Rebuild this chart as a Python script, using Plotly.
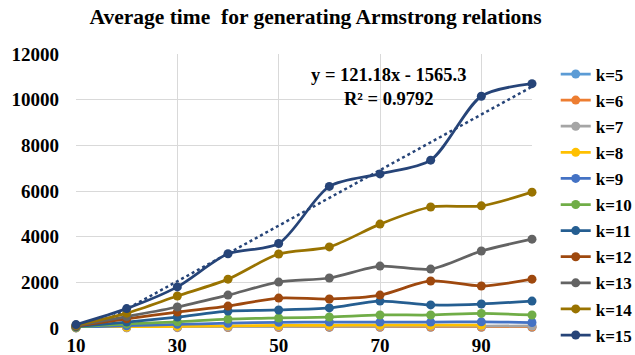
import numpy as np
import plotly.graph_objects as go

x_vals = [10, 20, 30, 40, 50, 60, 70, 80, 90, 100]
series_names = ["k=5", "k=6", "k=7", "k=8", "k=9", "k=10", "k=11", "k=12", "k=13", "k=14", "k=15"]

k5 = [5, 10, 15, 20, 25, 25, 30, 30, 30, 30]
k6 = [8, 15, 25, 30, 35, 40, 40, 40, 45, 45]
k7 = [10, 25, 40, 55, 65, 70, 75, 80, 85, 90]
k8 = [15, 40, 70, 95, 110, 120, 125, 125, 130, None]
k9 = [30, 100, 160, 210, 250, 260, 260, 260, 270, 240]
k10 = [40, 180, 270, 390, 440, 480, 570, 570, 640, 570]
k11 = [60, 260, 480, 740, 790, 880, 1180, 1010, 1050, 1180]
k12 = [80, 400, 700, 960, 1310, 1270, 1440, 2060, 1840, 2140]
k13 = [100, 500, 920, 1440, 2010, 2190, 2710, 2580, 3370, 3890]
k14 = [120, 650, 1400, 2140, 3240, 3550, 4550, 5300, 5350, 5950]
k15 = [150, 850, 1800, 3250, 3700, 6200, 6750, 7350, 10150, 10700]

x_ticks = [10, 30, 50, 70, 90]
y_ticks = [0, 2000, 4000, 6000, 8000, 10000, 12000]

colors = ["#5B9BD5", "#ED7D31", "#A5A5A5", "#FFC000", "#4472C4", "#70AD47",
          "#255E91", "#9E480E", "#636363", "#997300", "#264478"]

trend_label = "y = 121.18x - 1565.3"
r2_label = "R² = 0.9792"
title_text = "Average time  for generating Armstrong relations"

FONT = "Liberation Serif"

fig = go.Figure()

coef = np.polyfit(x_vals, k15, 1)
tx = [x_vals[0], x_vals[-1]]
ty = [coef[0] * v + coef[1] for v in tx]
fig.add_trace(go.Scatter(
    x=tx, y=ty, mode="lines", showlegend=False,
    line=dict(color="#264478", width=2.5, dash="dot"), hoverinfo="skip",
))

all_series = [k5, k6, k7, k8, k9, k10, k11, k12, k13, k14, k15]
for name, vals, col in zip(series_names, all_series, colors):
    fig.add_trace(go.Scatter(
        x=x_vals, y=vals, name="<b>" + name + "</b>", mode="lines+markers",
        legendgroup=name,
        line=dict(color=col, width=2.75, shape="spline", smoothing=0.8),
        marker=dict(color=col, size=9),
        cliponaxis=False, connectgaps=False,
    ))

fig.add_annotation(
    x=71.7, y=10550, xref="x", yref="y",
    text="<b>" + trend_label + "</b><br><b>" + r2_label + "</b>", showarrow=False,
    font=dict(family=FONT, size=18.5, color="#000000"),
    align="center",
)

tickfont = dict(family=FONT, size=19, color="#000000")

fig.update_layout(
    width=635, height=355,
    margin=dict(l=76, r=103, t=54, b=27, autoexpand=False),
    paper_bgcolor="white", plot_bgcolor="white",
    title=dict(text="<b>" + title_text + "</b>", x=0.497, xanchor="center",
               y=0.955, yanchor="middle",
               font=dict(family=FONT, size=21.5, color="#000000")),
    font=dict(family=FONT, color="#000000"),
    showlegend=True,
    legend=dict(x=1.052, xanchor="left", y=0.991, yanchor="top",
                font=dict(family=FONT, size=17, color="#000000"),
                itemwidth=30, bgcolor="rgba(0,0,0,0)",
                traceorder="grouped", tracegroupgap=1,
                maxheight=340),
    xaxis=dict(range=[10, 100], tickvals=x_ticks,
               ticktext=["<b>%d</b>" % v for v in x_ticks],
               showgrid=True, gridcolor="#D9D9D9", gridwidth=1,
               zeroline=False, showline=False, ticks="", automargin=False,
               tickfont=tickfont, ticklabelstandoff=4),
    yaxis=dict(range=[0, 12000], tickvals=y_ticks,
               ticktext=["<b>%d</b>" % v for v in y_ticks],
               showgrid=True, gridcolor="#D9D9D9", gridwidth=1,
               zeroline=False, showline=False, ticks="", automargin=False,
               tickfont=tickfont, ticklabelstandoff=16),
)

fig.write_html("out.html", config={"displayModeBar": False},
               post_script="document.body.style.margin='0px';")
